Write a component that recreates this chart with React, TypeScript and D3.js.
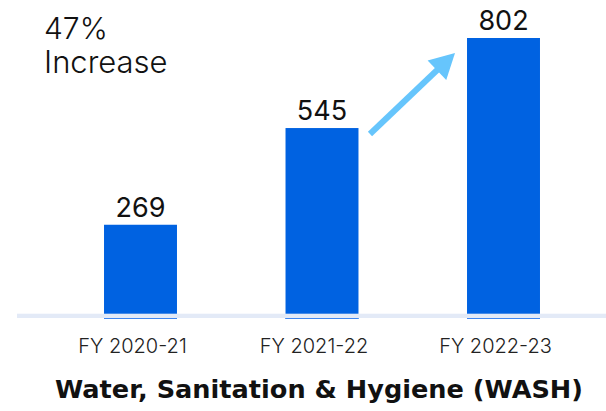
import React from "react";
import * as d3 from "d3";

const categories = ["FY 2020-21", "FY 2021-22", "FY 2022-23"];
const values = [269, 545, 802];
const headline = ["47%", "Increase"];
const title = "Water, Sanitation & Hygiene (WASH)";

const W = 606;
const H = 411;
const FONT = "Inter, 'Noto Sans', sans-serif";

export default function App() {
  const x = d3.scaleBand<string>().domain(categories).range([49.75, 594.25]).paddingInner(0.598).paddingOuter(0.299);
  const y = d3.scaleLinear().domain([0, 802]).range([319, 38]);
  const base = y(0);

  const b2 = categories[1];
  const b3 = categories[2];
  const tail: [number, number] = [(x(b2) as number) + x.bandwidth() + 11.5, y(values[1]) + 6];
  const tip: [number, number] = [(x(b3) as number) - 12, y(values[2]) + 15];
  const ang = Math.atan2(tip[1] - tail[1], tip[0] - tail[0]);
  const headLen = 25;
  const headHalf = 13.5;
  const bx = tip[0] - headLen * Math.cos(ang);
  const by = tip[1] - headLen * Math.sin(ang);
  const px = -Math.sin(ang);
  const py = Math.cos(ang);
  const headPts = [
    tip,
    [bx + px * headHalf, by + py * headHalf],
    [bx - px * headHalf, by - py * headHalf],
  ];
  const lineEnd = [bx + 4 * Math.cos(ang), by + 4 * Math.sin(ang)];

  return (
    <svg width={W} height={H} style={{ position: "absolute", left: 0, top: 0, background: "#fff" }}>
      {categories.map((c, i) => (
        <rect key={c} x={x(c)} y={y(values[i])} width={x.bandwidth()} height={base - y(values[i])} fill="#0062E1" />
      ))}
      {categories.map((c) => (
        <rect key={c + "u"} x={x(c)} y={base - 1.3} width={x.bandwidth()} height={1.3} fill="#3F86F0" />
      ))}
      <rect x={17} y={base - 5.3} width={W - 17} height={4.3} fill="#E3EAF7" />
      {categories.map((c, i) => (
        <text
          key={c + "v"}
          x={(x(c) as number) + x.bandwidth() / 2}
          y={y(values[i]) - 8}
          textAnchor="middle"
          fontFamily={FONT}
          fontSize={27}
          fontWeight={400}
          fill="#111"
        >
          {values[i]}
        </text>
      ))}
      {categories.map((c) => (
        <text
          key={c + "t"}
          x={(x(c) as number) + x.bandwidth() / 2 - 8}
          y={352.7}
          textAnchor="middle"
          fontFamily={FONT}
          fontSize={20}
          fontWeight={300}
          fill="#222"
        >
          {c}
        </text>
      ))}
      <text x={44} y={39} fontFamily={FONT} fontSize={30} fontWeight={300} fill="#111">
        {headline[0]}
      </text>
      <text x={44} y={73} fontFamily={FONT} fontSize={31} fontWeight={300} fill="#111">
        {headline[1]}
      </text>
      <line x1={tail[0]} y1={tail[1]} x2={lineEnd[0]} y2={lineEnd[1]} stroke="#66C5FC" strokeWidth={6} />
      <polygon points={headPts.map((p) => p.join(",")).join(" ")} fill="#66C5FC" />
      <text x={319} y={398.3} textAnchor="middle" fontFamily="'DejaVu Sans', sans-serif" fontSize={25.6} fontWeight={700} fill="#111">
        {title}
      </text>
    </svg>
  );
}
